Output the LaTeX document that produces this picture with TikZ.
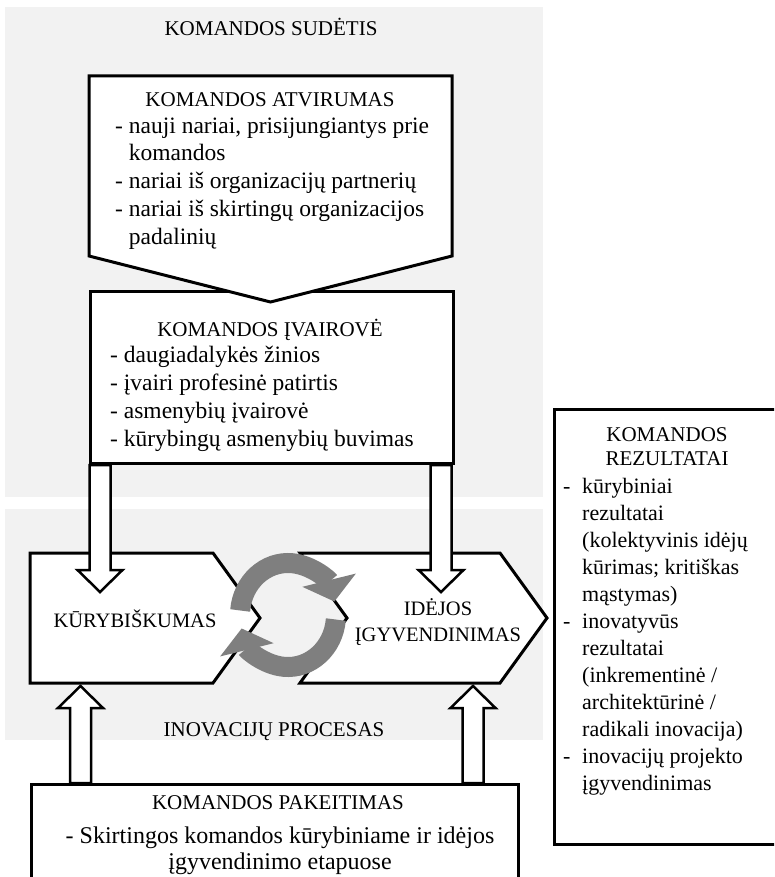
\documentclass[tikz,border=0pt]{standalone}
\usepackage{fontspec}
\setmainfont{Liberation Serif}
\usetikzlibrary{calc, arrows.meta, positioning}
\definecolor{panelgray}{HTML}{F2F2F2}
\definecolor{cyclegray}{HTML}{7F7F7F}
\newcommand{\itemdash}{\makebox[19pt][l]{-}}
\newcommand{\itemhang}{\hspace*{19pt}}

\begin{document}
\begin{tikzpicture}[
  x=1pt, y=-1pt,
  every node/.style={font=\fontsize{21}{24}\selectfont, inner sep=0pt},
  panel/.style={fill=panelgray},
  box/.style={draw, line width=3pt, fill=white},
  title/.style={anchor=base, align=center},
  items/.style={anchor=base west, align=left, font=\fontsize{23.5}{27.7}\selectfont},
  hollow/.style={draw, line width=2.5pt, fill=white, to path={
      ($(\tikztostart)!10.5pt!90:(\tikztotarget)$)
      -- ($(\tikztotarget)!22pt!(\tikztostart)!10.5pt!90:(\tikztotarget)$)
      -- ($(\tikztotarget)!22pt!(\tikztostart)!22.5pt!90:(\tikztotarget)$)
      -- (\tikztotarget)
      -- ($(\tikztotarget)!22pt!(\tikztostart)!22.5pt!-90:(\tikztotarget)$)
      -- ($(\tikztotarget)!22pt!(\tikztostart)!10.5pt!-90:(\tikztotarget)$)
      -- ($(\tikztostart)!10.5pt!-90:(\tikztotarget)$)
      -- cycle}},
  cycarrow/.style={draw=cyclegray, line width=20pt, -{Triangle[length=22pt, width=54pt]}},
]
  % Fonas
  \useasboundingbox (0,0) rectangle (774,877);
  \clip (0,0) rectangle (774,877);
  \fill[panel] (5,7) rectangle (543,497);
  \fill[panel] (5,509) rectangle (543,740);
  \node[title] (sudetis) at (271,36) {KOMANDOS SUDĖTIS};
  \node[title] (procesas) at (274,736) {INOVACIJŲ PROCESAS};

  % Komandos įvairovė ir atvirumas
  \node[box, anchor=north west, minimum width=363pt, minimum height=172pt] (ivair) at (89,290) {};
  \draw[box] (89,76) -- (452,76) -- (452,256) -- (270.5,302) -- (89,256) -- cycle;
  \node[title] (atvirT) at (270,107) {KOMANDOS ATVIRUMAS};
  \node[items] (atvirL) at (115,244) {- nauji nariai, prisijungiantys prie\\\phantom{- }komandos\\- nariai iš organizacijų partnerių\\- nariai iš skirtingų organizacijos\\\phantom{- }padalinių};
  \node[title] (ivairT) at (270,336) {KOMANDOS ĮVAIROVĖ};
  \node[items] (ivairL) at (110,446) {- daugiadalykės žinios\\- įvairi profesinė patirtis\\- asmenybių įvairovė\\- kūrybingų asmenybių buvimas};

  % Inovacijų procesas
  \draw[box] (30,553) -- (213,553) -- (260,618) -- (213,683) -- (30,683) -- cycle;
  \draw[box] (300,553) -- (500,553) -- (547,618) -- (500,683) -- (300,683) -- (347,618) -- cycle;
  \node[title, font=\fontsize{20.5}{26}\selectfont] (kur) at (135,627) {KŪRYBIŠKUMAS};
  \node[title, font=\fontsize{20.5}{26}\selectfont] (idej) at (438,641) {IDĖJOS\\ĮGYVENDINIMAS};
  \coordinate (cyc) at (288,615);
  \draw[cycarrow] ($(cyc)+(185:48 and 52)$) arc[start angle=185, end angle=345, x radius=48, y radius=52];
  \draw[cycarrow] ($(cyc)+(5:48 and 52)$) arc[start angle=5, end angle=165, x radius=48, y radius=52];

  \coordinate (kurIn) at (100,592);
  \coordinate (idejIn) at (441,592);
  \draw[hollow] (ivair.south -| kurIn) to (kurIn);
  \draw[hollow] (ivair.south -| idejIn) to (idejIn);

  % Komandos pakeitimas
  \node[box, anchor=north west, minimum width=487pt, minimum height=130pt] (keit) at (30,783) {};
  \node[title] (keitT) at (278,809) {KOMANDOS PAKEITIMAS};
  \node[title, font=\fontsize{24}{26}\selectfont] (keitL) at (280,869) {- Skirtingos komandos kūrybiniame ir idėjos\\įgyvendinimo etapuose};
  \coordinate (kurOut) at (80.5,686);
  \coordinate (idejOut) at (473,686);
  \draw[hollow] (keit.north -| kurOut) to (kurOut);
  \draw[hollow] (keit.north -| idejOut) to (idejOut);

  % Komandos rezultatai
  \node[box, anchor=north west, minimum width=240pt, minimum height=435pt] (rez) at (553,408) {};
  \node[title] (rezT) at (667,465) {KOMANDOS\\REZULTATAI};
  \node[items, font=\fontsize{22}{27}\selectfont] (rezL) at (563,790) {\itemdash kūrybiniai\\\itemhang rezultatai\\\itemhang (kolektyvinis idėjų\\\itemhang kūrimas; kritiškas\\\itemhang mąstymas)\\\itemdash inovatyvūs\\\itemhang rezultatai\\\itemhang (inkrementinė /\\\itemhang architektūrinė /\\\itemhang radikali inovacija)\\\itemdash inovacijų projekto\\\itemhang įgyvendinimas};
\end{tikzpicture}
\end{document}
